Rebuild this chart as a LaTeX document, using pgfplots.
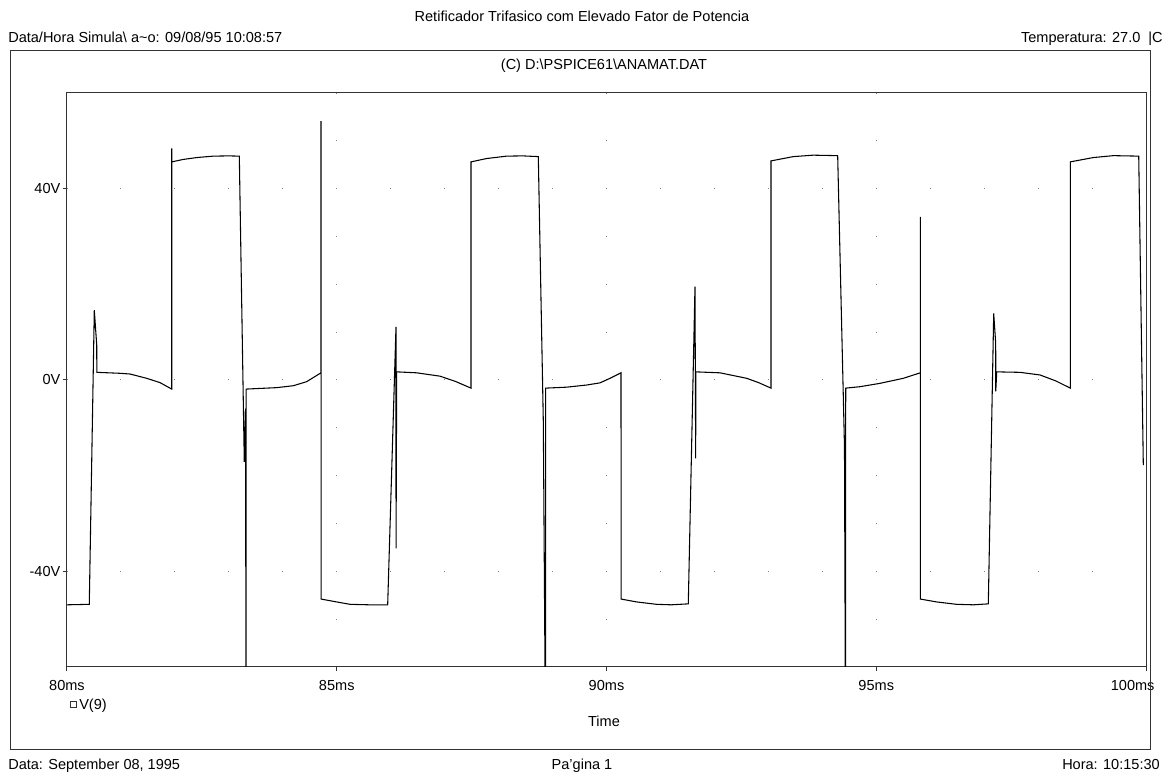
\documentclass[border=0pt]{standalone}
\usepackage{fontspec}
\setmainfont{Liberation Sans}
\usepackage{pgfplots}
\pgfplotsset{compat=1.18}
\newcommand{\pf}{\fontsize{10.9}{13}\selectfont}

\begin{document}
\begin{tikzpicture}[x=1pt,y=1pt]
\begin{axis}[
  at={(0,0)}, anchor=south west,
  scale only axis, width=809.25pt, height=430.5pt,
  xmin=80, xmax=100, ymin=-60, ymax=60,
  xtick={80,85,90,95,100}, xticklabels={80ms,85ms,90ms,95ms,\hspace*{-20pt}100ms},
  ytick={-40,0,40}, yticklabels={-40V,0V,40V},
  tick align=outside, major tick length=3pt,
  xtick pos=bottom, ytick pos=left,
  tick label style={font=\pf, text=black},
  xticklabel style={yshift=-3.5pt},
  yticklabel style={xshift=1.5pt},
  grid=major,
  major x grid style={gray, line width=0.75pt, dash pattern=on 0.75pt off 35.125pt, dash phase=0.375pt},
  major y grid style={gray, line width=0.75pt, dash pattern=on 0.75pt off 39.7125pt, dash phase=0.375pt},
  axis line style={black!80, line width=0.75pt},
  tick style={black!80, line width=0.75pt},
]
\addplot[black, line width=0.8pt] coordinates {
(80.000,-47.0) (80.200,-46.95) (80.413,-46.9) (80.506,14.6) (80.551,7.3) (80.553,1.6)
(80.982,1.4) (81.168,1.25) (81.477,0.35) (81.724,-0.55) (81.941,-1.9)
(81.941,48.4) (81.943,45.6) (82.150,46.1) (82.404,46.5) (82.712,46.8) (83.000,46.85) (83.194,46.8)
(83.286,-17.1) (83.310,-6.0) (83.318,-75) (83.320,-1.9)
(83.887,-1.6) (84.195,-1.2) (84.442,-0.35) (84.708,1.5)
(84.708,54.1) (84.710,-45.8) (84.999,-46.4) (85.246,-46.9) (85.600,-47.0) (85.944,-47.0)
(86.098,11.1) (86.099,-35.2) (86.111,1.7)
(86.482,1.5) (86.914,0.8) (87.200,-0.3) (87.488,-1.7)
(87.488,45.6) (87.779,46.3) (88.150,46.8) (88.450,46.85) (88.736,46.7)
(88.829,-8.9) (88.869,-75) (88.873,-1.7)
(89.262,-1.5) (89.633,-1.05) (89.880,-0.6) (90.065,0.35) (90.269,1.5)
(90.270,-45.8) (90.560,-46.4) (90.930,-46.9) (91.200,-47.0) (91.516,-46.8)
(91.640,19.5) (91.653,-16.4) (91.655,1.7)
(92.104,1.5) (92.599,0.35) (92.830,-0.6) (93.049,-1.7)
(93.049,45.8) (93.462,46.7) (93.833,47.0) (94.285,46.9)
(94.411,-13.9) (94.430,-75) (94.434,-1.7)
(94.699,-1.4) (95.069,-0.7) (95.501,0.35) (95.816,1.5)
(95.816,34.1) (95.818,-45.8) (96.120,-46.4) (96.491,-46.9) (96.800,-47.0) (97.077,-46.8)
(97.177,13.9) (97.214,7.7) (97.215,-2.4) (97.233,1.7)
(97.664,1.6) (98.035,1.05) (98.330,-0.2) (98.597,-1.7)
(98.597,45.6) (99.023,46.5) (99.394,46.9) (99.865,46.8)
(99.950,-17.8)
};
\end{axis}
% frame and texts
\draw[black!80, line width=0.75pt] (-42,-62.25) rectangle (812.25,462);
\node[font=\pf, anchor=base] at (386.25,483.75) {Retificador Trifasico com Elevado Fator de Potencia};
\node[font=\pf, anchor=base west, inner xsep=0pt] at (-44.25,468) {Data/Hora Simula\textbackslash{} a\textasciitilde{}o: 09/08/95 10:08:57};
\node[font=\pf, anchor=base east, inner xsep=0pt] at (822,468) {Temperatura: 27.0\ \ |C};
\node[font=\pf, anchor=base] at (402.75,447.75) {(C) D:\textbackslash{}PSPICE61\textbackslash{}ANAMAT.DAT};
\draw[black!80, line width=0.6pt] (2.4,-25.9) rectangle (7.0,-30.5);
\node[font=\pf, anchor=base west, inner xsep=0pt] at (9,-32.25) {V(9)};
\node[font=\pf, anchor=base] at (402.75,-45) {Time};
\node[font=\pf, anchor=base west, inner xsep=0pt] at (-44.25,-77.25) {Data: September 08, 1995};
\node[font=\pf, anchor=base] at (386.25,-77.25) {Pa'gina 1};
\node[font=\pf, anchor=base east, inner xsep=0pt] at (819.75,-77.25) {Hora: 10:15:30};
\pgfresetboundingbox
\path[use as bounding box] (-50.25,-79.5) rectangle (822,500.25);
\end{tikzpicture}
\end{document}
